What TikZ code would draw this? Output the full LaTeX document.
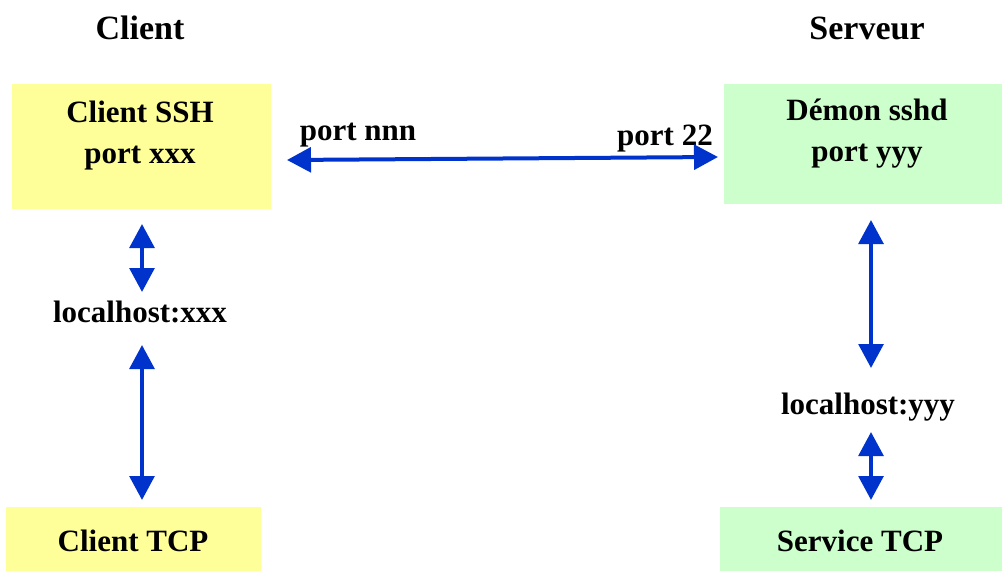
\documentclass[tikz,border=0pt]{standalone}
\usepackage{fontspec}
\setmainfont{Liberation Serif}
\usetikzlibrary{arrows.meta,calc}
\definecolor{ylw}{HTML}{FFFF99}
\definecolor{grn}{HTML}{CCFFCC}
\definecolor{blu}{HTML}{0033CC}
\begin{document}
\begin{tikzpicture}[x=0.75pt,y=-0.75pt,
  every node/.style={inner sep=0pt,outer sep=0pt},
  ybox/.style={fill=ylw,draw=none},
  gbox/.style={fill=grn,draw=none},
  lbl/.style={font=\fontsize{23.25}{30.75}\selectfont\bfseries,align=center,anchor=base},
  ttl/.style={font=\fontsize{25.5}{30}\selectfont\bfseries,anchor=base},
  arr/.style={draw=blu,line width=3pt,{Triangle[width=18.5pt,length=18pt]}-{Triangle[width=18.5pt,length=18pt]}}]
\useasboundingbox (0,0) rectangle (1005,571);
% boxes
\node[ybox,minimum width=194.25pt,minimum height=93.75pt] (ssh) at (141.5,146.5) {};
\node[gbox,minimum width=208.5pt,minimum height=90pt] (sshd) at (863,144) {};
\node[ybox,minimum width=191.25pt,minimum height=48pt] (ctcp) at (133.5,539) {};
\node[gbox,minimum width=211.5pt,minimum height=48pt] (stcp) at (861,539) {};
% titles
\node[ttl] (tc) at (140,39) {Client};
\node[ttl] (ts) at (867,39) {Serveur};
% texts
\node[lbl] (sshtxt) at (140,163) {Client SSH\\port xxx};
\node[lbl] (sshdtxt) at (867,161) {Démon sshd\\port yyy};
\node[lbl] (ctcptxt) at (133,551) {Client TCP};
\node[lbl] (stcptxt) at (860,551) {Service TCP};
\node[lbl] (lhx) at (140,322) {localhost:xxx};
\node[lbl] (lhy) at (868,414) {localhost:yyy};
\node[lbl] (pn) at (358,140) {port nnn};
\node[lbl] (p22) at (665,145) {port 22};
% arrows
\draw[arr] ($(ssh.east)+(16,13.5)$) -- ($(sshd.west)+(-6,13)$);
\draw[arr] ($(ssh.south)+(0.5,15)$) -- ($(lhx.base)+(2,-30)$);
\draw[arr] ($(lhx.base)+(2,23)$) -- ($(ctcp.north)+(8.5,-7)$);
\draw[arr] ($(sshd.south)+(8,16)$) -- ($(lhy.base)+(3,-46)$);
\draw[arr] ($(lhy.base)+(3,18)$) -- ($(stcp.north)+(10,-7)$);
\end{tikzpicture}
\end{document}
